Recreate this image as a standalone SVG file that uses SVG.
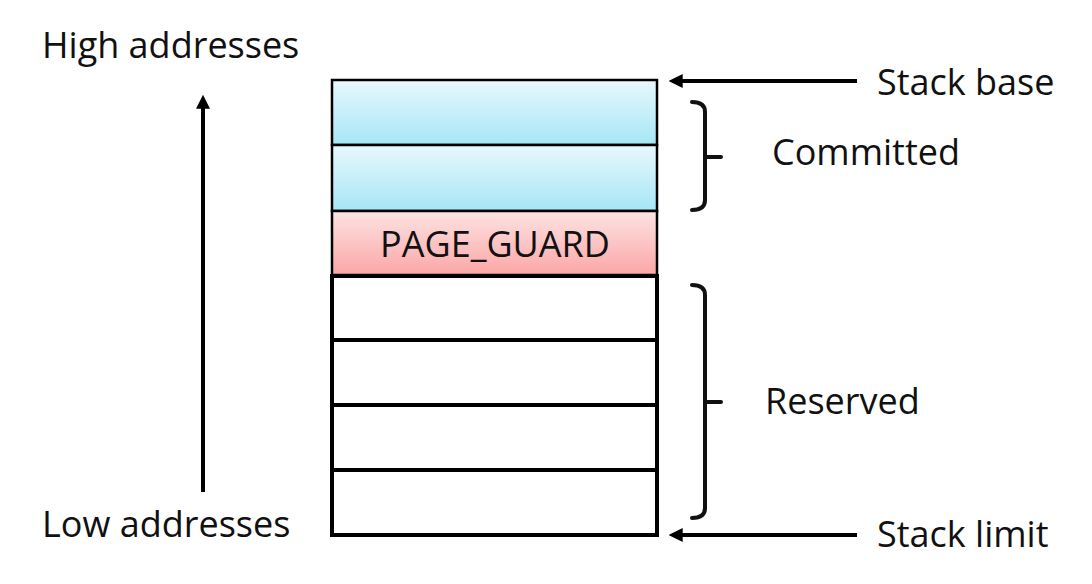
<svg xmlns="http://www.w3.org/2000/svg" width="1092" height="584" viewBox="0 0 1092 584">
<defs>
<linearGradient id="blue" x1="0" y1="0" x2="0" y2="1"><stop offset="0" stop-color="#e8f8fd"/><stop offset="1" stop-color="#a6e6f6"/></linearGradient>
<linearGradient id="pink" x1="0" y1="0" x2="0" y2="1"><stop offset="0" stop-color="#fde3e3"/><stop offset="1" stop-color="#fba6a6"/></linearGradient>
<marker id="ah" viewBox="0 0 10 10" refX="5.5" refY="5" markerWidth="3.5" markerHeight="3.5" orient="auto"><path d="M10,5 L0,0 L0,10 Z" fill="#000"/></marker>
</defs>
<style>
text{font-family:"Open Sans","Noto Sans","Liberation Sans",sans-serif;fill:#111;}
.lbl{font-size:36px;}
.blk{stroke:#000;}
.thin{stroke-width:2.5;}
.thick{stroke-width:4;}
.ln{stroke:#000;stroke-width:4;fill:none;}
.br{stroke:#111;stroke-width:4;fill:none;stroke-linecap:round;}
</style>
<rect width="1092" height="584" fill="#fff"/>
<g id="committed1"><rect class="blk thin" x="332" y="80" width="325" height="65" fill="url(#blue)"/></g>
<g id="committed2"><rect class="blk thin" x="332" y="145" width="325" height="66" fill="url(#blue)"/></g>
<g id="page-guard"><rect class="blk thin" x="332" y="211" width="325" height="64" fill="url(#pink)"/><text class="lbl" x="495" y="257" text-anchor="middle">PAGE_GUARD</text></g>
<g id="reserved-blocks">
<rect class="blk thick" x="332" y="276" width="325" height="64" fill="#fff"/>
<rect class="blk thick" x="332" y="340" width="325" height="65" fill="#fff"/>
<rect class="blk thick" x="332" y="405" width="325" height="65" fill="#fff"/>
<rect class="blk thick" x="332" y="470" width="325" height="65" fill="#fff"/>
</g>
<g id="high"><text class="lbl" x="42" y="58">High addresses</text></g>
<g id="low"><text class="lbl" x="42" y="537">Low addresses</text></g>
<g id="stack-base"><text class="lbl" x="877" y="95">Stack base</text></g>
<g id="stack-limit"><text class="lbl" x="877" y="547">Stack limit</text></g>
<g id="committed-label"><text class="lbl" x="772" y="165">Committed</text></g>
<g id="reserved-label"><text class="lbl" x="765" y="414">Reserved</text></g>
<g id="connectors">
<line class="ln" x1="203" y1="492" x2="203" y2="101" marker-end="url(#ah)"/>
<line class="ln" x1="857" y1="81" x2="675" y2="81" marker-end="url(#ah)"/>
<line class="ln" x1="857" y1="535" x2="675" y2="535" marker-end="url(#ah)"/>
<path class="br" d="M692,102 Q705,102 705,112 L705,200 Q705,210 692,210 M705,157 L721,157"/>
<path class="br" d="M692,285 Q705,285 705,295 L705,508 Q705,518 692,518 M705,402 L721,402"/>
</g>
</svg>
